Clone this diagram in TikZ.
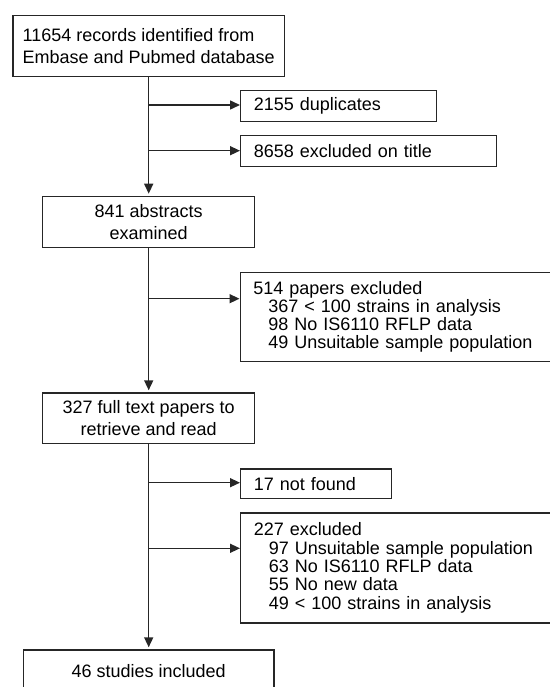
\documentclass[tikz,border=0pt]{standalone}
\usepackage{fontspec}
\setmainfont{Liberation Sans}
\usetikzlibrary{arrows.meta}
\begin{document}
\begin{tikzpicture}[x=1pt,y=-1pt,
  box/.style={draw=black!85, line width=1.2pt, text=black},
  mainbox/.style={box, anchor=north, align=center, inner xsep=0pt, inner ysep=0pt,
    font=\fontsize{18}{21.5}\selectfont},
  sidebox/.style={box, anchor=north west, align=left, inner xsep=13.3pt, inner ysep=0pt,
    font=\fontsize{18}{18.3}\selectfont},
  arr/.style={draw=black!85, line width=1.5pt, -{Triangle[length=10pt,width=9pt]}},
  varr/.style={arr, shorten >=2pt},
  ]
\useasboundingbox (0,0) rectangle (549,687);

% main column
\node[mainbox, align=left, minimum width=271.6pt, minimum height=61pt] (top) at (148.7,15)
  {11654 records identified from\\Embase and Pubmed database};
\node[mainbox, minimum width=212.3pt, minimum height=51.3pt] (abs) at (148.7,195.7)
  {841 abstracts\\examined};
\node[mainbox, minimum width=212.3pt, minimum height=50.4pt] (full) at (148.7,392.3)
  {327 full text papers to\\retrieve and read};
\node[mainbox, minimum width=250.6pt, minimum height=42pt] (incl) at (148.7,649.3)
  {46 studies included};

% side boxes
\node[sidebox, text width=169.4pt, minimum height=30.7pt] (dup) at (240,90)
  {2155 duplicates};
\node[sidebox, text width=229.4pt, minimum height=30.7pt] (ttl) at (240,135.3)
  {8658 excluded on title};
\node[sidebox, text width=303.4pt, minimum height=89pt] (exa) at (239.5,271.7)
  {514 papers excluded\\
   \hspace*{15pt}367 < 100 strains in analysis\\
   \hspace*{15pt}98 No IS6110 RFLP data\\
   \hspace*{15pt}49 Unsuitable sample population};
\node[sidebox, text width=124.1pt, minimum height=29.4pt] (nf) at (240,468.3)
  {17 not found};
\node[sidebox, text width=303.4pt, minimum height=110pt] (exb) at (240,512.3)
  {227 excluded\\
   \hspace*{15pt}97 Unsuitable sample population\\
   \hspace*{15pt}63 No IS6110 RFLP data\\
   \hspace*{15pt}55 No new data\\
   \hspace*{15pt}49 < 100 strains in analysis};

% trunk
\draw[varr] (top) -- (abs);
\draw[varr] (abs) -- (full);
\draw[varr] (full) -- (incl);

% branch points
\coordinate (b1) at (148.7,105);
\coordinate (b2) at (148.7,150.7);
\coordinate (b3) at (148.7,298.7);
\coordinate (b4) at (148.7,482.7);
\coordinate (b5) at (148.7,548.3);

\draw[arr] (b1) -- (b1 -| dup.west);
\draw[arr] (b2) -- (b2 -| ttl.west);
\draw[arr] (b3) -- (b3 -| exa.west);
\draw[arr] (b4) -- (b4 -| nf.west);
\draw[arr] (b5) -- (b5 -| exb.west);
\end{tikzpicture}
\end{document}
